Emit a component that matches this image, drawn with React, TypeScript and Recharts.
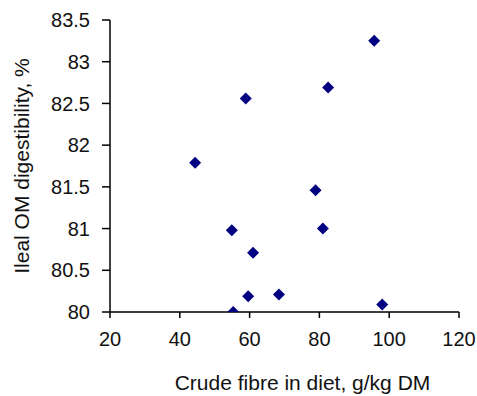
import React from "react";
import { ScatterChart, Scatter, XAxis, YAxis } from "recharts";

// crude fibre (g/kg DM) and ileal OM digestibility (%)
const fibre = [95.7, 82.5, 58.9, 44.4, 78.9, 54.9, 81.0, 61.0, 59.6, 68.4, 98.0, 55.3];
const digestibility = [83.25, 82.69, 82.56, 81.79, 81.46, 80.98, 81.0, 80.71, 80.19, 80.21, 80.09, 80.0];

const xTicks = [20, 40, 60, 80, 100, 120];
const yTicks = [80, 80.5, 81, 81.5, 82, 82.5, 83, 83.5];

const points = fibre.map((x, i) => ({ x, y: digestibility[i] }));

const FONT = "'Liberation Sans', Arial, sans-serif";
const TEXT = "#111";

const Diamond = (props: any) => {
  const { cx, cy } = props;
  const r = 6;
  return (
    <polygon
      points={`${cx},${cy - r} ${cx + r},${cy} ${cx},${cy + r} ${cx - r},${cy}`}
      fill="#000080"
    />
  );
};

const XLabel = (props: any) => {
  const vb = props.viewBox;
  return (
    <text
      x={vb.x + vb.width / 2 + 18}
      y={vb.y + 78}
      textAnchor="middle"
      fontSize={21}
      fontFamily={FONT}
      fill={TEXT}
    >
      Crude fibre in diet, g/kg DM
    </text>
  );
};

const YLabel = (props: any) => {
  const vb = props.viewBox;
  const cx = 21.5;
  const cy = vb.y + vb.height / 2;
  return (
    <text
      x={cx}
      y={cy}
      transform={`rotate(-90, ${cx}, ${cy})`}
      textAnchor="middle"
      dominantBaseline="central"
      fontSize={21}
      fontFamily={FONT}
      fill={TEXT}
    >
      Ileal OM digestibility, %
    </text>
  );
};

export default function App() {
  const tick = { fontSize: 20, fontFamily: FONT, fill: TEXT };
  return (
    <div style={{ position: "absolute", left: 0, top: 0, background: "#fff" }}>
      <ScatterChart width={477} height={396} margin={{ top: 20, right: 18, bottom: 0, left: 0 }}>
        <XAxis
          type="number"
          dataKey="x"
          domain={[20, 120]}
          ticks={xTicks}
          interval={0}
          height={84}
          tickSize={6}
          tickMargin={14}
          tick={tick}
          axisLine={{ stroke: "#000", strokeWidth: 1.5 }}
          tickLine={{ stroke: "#000", strokeWidth: 1.5 }}
          allowDataOverflow
          label={<XLabel />}
        />
        <YAxis
          type="number"
          dataKey="y"
          domain={[80, 83.5]}
          ticks={yTicks}
          interval={0}
          width={110}
          tickSize={8}
          tickMargin={12}
          tick={tick}
          axisLine={{ stroke: "#000", strokeWidth: 1.5 }}
          tickLine={{ stroke: "#000", strokeWidth: 1.5 }}
          allowDataOverflow
          label={<YLabel />}
        />
        <Scatter data={points} shape={<Diamond />} isAnimationActive={false} />
      </ScatterChart>
    </div>
  );
}
